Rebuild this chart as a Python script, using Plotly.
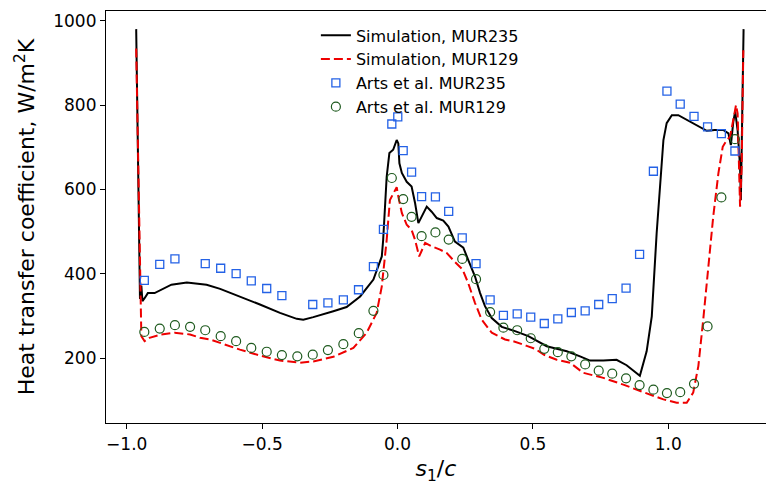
import plotly.graph_objects as go

# Simulation, MUR235 (s1/c, heat transfer coefficient in W/m^2K)
sim235_s = [-0.965, -0.951, -0.946, -0.942, -0.934, -0.922, -0.897, -0.872, -0.835, -0.778,
            -0.705, -0.655, -0.582, -0.508, -0.434, -0.372, -0.348, -0.311, -0.237, -0.188,
            -0.138, -0.089, -0.058, -0.053, -0.040, -0.030, -0.016, -0.003, 0.003, 0.007,
            0.016, 0.034, 0.052, 0.065, 0.077, 0.089, 0.108, 0.126, 0.145, 0.169,
            0.188, 0.212, 0.243, 0.261, 0.286, 0.305, 0.323, 0.348, 0.385, 0.434,
            0.483, 0.551, 0.625, 0.674, 0.711, 0.760, 0.809, 0.846, 0.883, 0.895,
            0.920, 0.939, 0.957, 0.969, 0.982, 0.994, 1.013, 1.037, 1.068, 1.117,
            1.142, 1.172, 1.203, 1.222, 1.231, 1.240, 1.247, 1.256, 1.265, 1.268, 1.278]
sim235_h = [980, 340, 372, 335, 342, 354, 354, 362, 374, 379,
            374, 364, 346, 327, 307, 293, 291, 297, 311, 321,
            346, 386, 441, 480, 630, 686, 694, 717, 709, 662,
            639, 618, 607, 567, 520, 536, 559, 547, 532, 526,
            512, 476, 462, 433, 394, 354, 323, 295, 274, 264,
            252, 228, 216, 204, 194, 194, 196, 183, 165, 158,
            216, 299, 496, 615, 717, 757, 776, 776, 765, 749,
            739, 741, 741, 733, 705, 760, 785, 740, 654, 575, 980]

# Simulation, MUR129
sim129_s = [-0.965, -0.946, -0.934, -0.916, -0.872, -0.823, -0.766, -0.729, -0.692, -0.655,
            -0.582, -0.508, -0.434, -0.360, -0.311, -0.237, -0.163, -0.114, -0.077, -0.058,
            -0.040, -0.028, -0.009, -0.003, 0.003, 0.016, 0.034, 0.052, 0.065, 0.080,
            0.102, 0.126, 0.157, 0.182, 0.212, 0.240, 0.261, 0.286, 0.311, 0.348,
            0.397, 0.428, 0.477, 0.508, 0.540, 0.588, 0.637, 0.686, 0.760, 0.834,
            0.908, 0.982, 1.031, 1.068, 1.092, 1.111, 1.129, 1.148, 1.166, 1.185,
            1.201, 1.216, 1.228, 1.240, 1.250, 1.256, 1.262, 1.265, 1.271, 1.277]
sim129_h = [934, 252, 240, 248, 256, 260, 256, 248, 244, 236,
            220, 206, 194, 189, 192, 203, 224, 260, 307, 370,
            480, 575, 599, 605, 583, 544, 516, 504, 480, 441,
            473, 465, 457, 449, 428, 410, 378, 331, 291, 260,
            244, 240, 229, 222, 208, 196, 189, 165, 153, 137,
            119, 102, 94, 94, 118, 181, 291, 417, 536, 638,
            701, 717, 725, 765, 800, 780, 654, 559, 654, 930]

# Arts et al. measurements, MUR235
arts235_s = [-0.935, -0.878, -0.822, -0.710, -0.653, -0.596, -0.540, -0.483, -0.427, -0.313,
             -0.257, -0.200, -0.144, -0.089, -0.052, -0.021, 0.001, 0.021, 0.052, 0.089,
             0.140, 0.189, 0.239, 0.290, 0.342, 0.391, 0.442, 0.492, 0.542, 0.592,
             0.642, 0.693, 0.743, 0.793, 0.844, 0.894, 0.945, 0.995, 1.044, 1.095,
             1.145, 1.196, 1.246]
arts235_h = [384, 422, 435, 424, 413, 400, 383, 365, 348, 327,
             331, 338, 362, 417, 505, 755, 772, 692, 641, 583,
             582, 548, 485, 424, 338, 301, 305, 297, 282, 293,
             308, 312, 327, 341, 366, 446, 643, 833, 802, 773,
             748, 732, 691]

# Arts et al. measurements, MUR129
arts129_s = [-0.935, -0.878, -0.822, -0.766, -0.710, -0.653, -0.596, -0.540, -0.483, -0.427,
             -0.370, -0.313, -0.257, -0.200, -0.143, -0.089, -0.052, -0.021, 0.021, 0.052,
             0.089, 0.140, 0.189, 0.239, 0.290, 0.342, 0.391, 0.442, 0.492, 0.542,
             0.592, 0.642, 0.693, 0.743, 0.793, 0.844, 0.894, 0.945, 0.995, 1.044,
             1.095, 1.145, 1.196, 1.246]
arts129_h = [262, 270, 278, 274, 266, 252, 240, 224, 215, 207,
             204, 208, 219, 233, 259, 312, 397, 627, 577, 535,
             489, 498, 481, 435, 387, 309, 272, 266, 247, 222,
             214, 204, 185, 170, 163, 152, 136, 125, 117, 119,
             139, 275, 581, 719]

FONT = "DejaVu Sans"

fig = go.Figure()
fig.add_trace(go.Scatter(x=sim235_s, y=sim235_h, mode="lines",
                         name="Simulation, MUR235",
                         line=dict(color="black", width=2)))
fig.add_trace(go.Scatter(x=sim129_s, y=sim129_h, mode="lines",
                         name="Simulation, MUR129",
                         line=dict(color="#ee0000", width=2, dash="9px,4px")))
fig.add_trace(go.Scatter(x=arts235_s, y=arts235_h, mode="markers",
                         name="Arts et al. MUR235",
                         marker=dict(symbol="square-open", size=8,
                                     color="#2462e6", line=dict(width=1.3))))
fig.add_trace(go.Scatter(x=arts129_s, y=arts129_h, mode="markers",
                         name="Arts et al. MUR129",
                         marker=dict(symbol="circle-open", size=9,
                                     color="#1e5a1e", line=dict(width=1.2))))

axis_common = dict(showline=True, linecolor="black", linewidth=1.2,
                   ticks="outside", ticklen=5, tickwidth=1.2, tickcolor="black",
                   showgrid=False, zeroline=False,
                   tickfont=dict(family=FONT, size=17, color="black"))

fig.update_xaxes(range=[-1.0765, 1.3608], tickmode="linear", tick0=-1.0, dtick=0.5,
                 tickformat=".1f", mirror=True,
                 title=dict(text="<i>s</i><sub>1</sub>/<i>c</i>",
                            font=dict(family=FONT, size=22, color="black"),
                            standoff=8),
                 **axis_common)
fig.update_yaxes(range=[46, 1023], tickmode="linear", tick0=0, dtick=200,
                 title=dict(text="Heat transfer coefficient, W/m<sup>2</sup>K",
                            font=dict(family=FONT, size=22, color="black"),
                            standoff=12),
                 **axis_common)

fig.update_layout(
    width=766, height=490,
    margin=dict(l=106, r=0, t=11, b=67),
    paper_bgcolor="white", plot_bgcolor="white",
    font=dict(family=FONT, size=17, color="black"),
    showlegend=True,
    legend=dict(x=0.318, y=0.982, xanchor="left", yanchor="top",
                bgcolor="rgba(0,0,0,0)", borderwidth=0,
                font=dict(family=FONT, size=16, color="black"),
                tracegroupgap=0, itemwidth=30),
)

fig.write_html("out.html")
